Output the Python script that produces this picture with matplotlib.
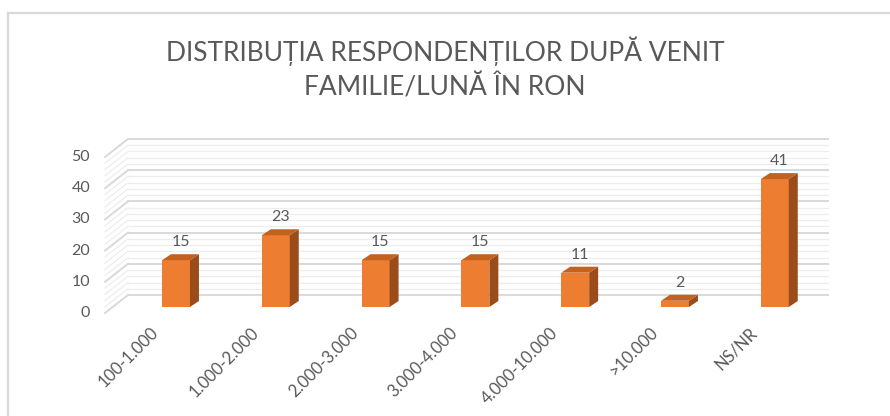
import matplotlib
matplotlib.use('Agg')
import matplotlib.pyplot as plt
from matplotlib.patches import Polygon, Rectangle
from matplotlib.lines import Line2D

plt.rcParams['font.family'] = ['Lato', 'DejaVu Sans']

categories = ['100-1.000', '1.000-2.000', '2.000-3.000', '3.000-4.000',
              '4.000-10.000', '>10.000', 'NS/NR']
values = [15, 23, 15, 15, 11, 2, 41]
yticks = [0, 10, 20, 30, 40, 50]
title = 'DISTRIBUȚIA RESPONDENȚILOR DUPĂ VENIT\nFAMILIE/LUNĂ ÎN RON'

# colours
front_c = '#ED7D31'
side_c = '#9A4C1B'
top_c = '#C3611F'
text_c = '#595959'

W, H = 890, 416
fig = plt.figure(figsize=(W / 100, H / 100), dpi=100)
ax = fig.add_axes([0, 0, 1, 1])

# pixel scale: one category = 99.8 px, one unit = 3.12 px
cx, cw = 176, 99.8
vy, vh = 307, 3.12
ax.set_xlim(-cx / cw, (W - cx) / cw)
ax.set_ylim(-(H - vy) / vh, vy / vh)
ax.axis('off')

# 3D geometry (in data units)
bw = 0.14             # half width of bar
bdx, bdy = 0.09, 1.92  # bar depth
wall_front = -1.92
wall_back = 3.85
wx0, wx1, wx2 = -0.711, -0.481, 6.533

# walls with gridlines
for v in range(0, 51, 2):
    major = v % 10 == 0
    col = '#D9D9D9' if major else '#EDEDED'
    lw = 1.4 if major else 0.9
    ax.add_line(Line2D([wx1, wx2], [v + wall_back, v + wall_back], color=col, lw=lw, zorder=1))
    ax.add_line(Line2D([wx0, wx1], [v + wall_front, v + wall_back], color=col, lw=lw, zorder=1))

for v in yticks:
    ax.text(wx0 - 0.15, v + wall_front, str(v), ha='right', va='center',
            fontsize=11.5, color=text_c)

# bars
for i, v in enumerate(values):
    ax.add_patch(Rectangle((i - bw, 0), 2 * bw, v, facecolor=front_c,
                           edgecolor='none', zorder=3))
    ax.add_patch(Polygon([(i + bw, 0), (i + bw + bdx, bdy), (i + bw + bdx, v + bdy),
                          (i + bw, v)], closed=True, facecolor=side_c,
                         edgecolor='none', zorder=3))
    ax.add_patch(Polygon([(i - bw, v), (i + bw, v), (i + bw + bdx, v + bdy),
                          (i - bw + bdx, v + bdy)], closed=True, facecolor=top_c,
                         edgecolor='none', zorder=3))
    ax.text(i + bdx / 2, v + bdy + 2.6, str(v), ha='center', va='baseline',
            fontsize=11.5, color=text_c)
    ax.text(i - 0.2, -7.4, categories[i], rotation=45, rotation_mode='anchor',
            ha='right', va='center', fontsize=12, color=text_c)

fig.text(0.5, 1 - 36 / H, title, ha='center', va='top', fontsize=19,
         color=text_c, linespacing=1.45)

# chart frame
fig.add_artist(Line2D([8 / W, 1], [1 - 13 / H, 1 - 13 / H], color='#D9D9D9', lw=1.6,
                      transform=fig.transFigure))
fig.add_artist(Line2D([8 / W, 8 / W], [0, 1 - 13 / H], color='#D9D9D9', lw=1.6,
                      transform=fig.transFigure))

fig.savefig('out.png', dpi=100)
